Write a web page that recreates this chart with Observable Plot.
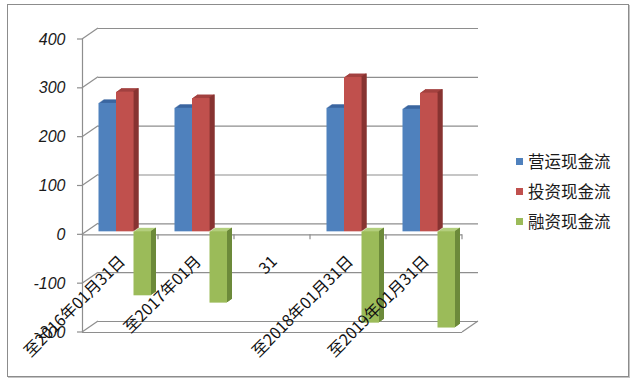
<!DOCTYPE html>
<html><head><meta charset="utf-8">
<script src="https://cdn.jsdelivr.net/npm/d3@7"></script>
<script src="https://cdn.jsdelivr.net/npm/@observablehq/plot@0.6"></script>
<style>
body{margin:0;background:#fff;}
#wrap{position:relative;width:633px;height:383px;overflow:hidden;background:#fff;font-family:"Noto Sans CJK SC","Noto Sans",sans-serif;}
#frame{position:absolute;left:7px;top:4px;width:622px;height:373px;box-sizing:border-box;border:1px solid #8c8c8c;box-shadow:1px 1px 0 #c4c4c4;}
#chart{position:absolute;left:0;top:0;}
.lg{position:absolute;left:516px;height:20px;display:flex;align-items:center;font-size:16.5px;color:#1a1a1a;white-space:nowrap;}
.lg i{display:inline-block;width:7px;height:7px;margin-right:5px;}
</style></head>
<body>
<div id="wrap"><div id="frame"></div><div id="chart"></div><div id="legend"></div></div>
<script>
// ---- data ----
const categories = ["至2016年01月31日", "至2017年01月", "31", "至2018年01月31日", "至2019年01月31日"];
const seriesNames = ["营运现金流", "投资现金流", "融资现金流"];
const operating = [263, 253, null, 253, 251];
const investing = [286, 273, null, 316, 284];
const financing = [-131, -146, null, -187, -197];
const yTicks = [-200, -100, 0, 100, 200, 300, 400];

// ---- styles ----
const FRONT = ["#4f81bd", "#c0504d", "#9bbb59"];
const TOP = ["#3b66a0", "#a34240", "#b3cf7e"];
const SIDE = ["#385d8a", "#7f2e2c", "#6c8a3a"];
const GRID = "#8e8e8e";
const DX = 16, DY = -11;           // wall depth (px)
const BAR_START = 16.5 / 76, BAR_W = 17.5 / 76; // within a category band (x units)
const BD = 5, BDY = 0.7, BASE_DY = -3;  // bar extrusion

const seriesValues = [operating, investing, financing];
const rows = seriesNames.flatMap((s, j) =>
  seriesValues[j].map((v, i) => ({i, j, v, series: s, cat: categories[i]}))
).filter(d => d.v != null);

const X1 = d => d.i + BAR_START + d.j * BAR_W;
const X2 = d => d.i + BAR_START + (d.j + 1) * BAR_W;

function decor(index, scales) {
  const {x, y} = scales;
  const g = d3.create("svg:g").attr("fill", "none").attr("stroke", GRID).attr("stroke-width", 1.2);
  const x0 = x(0), xN = x(categories.length);
  for (const t of yTicks) {
    const py = y(t);
    g.append("line").attr("x1", x0 - 5).attr("x2", x0).attr("y1", py).attr("y2", py);
    g.append("line").attr("x1", x0).attr("y1", py).attr("x2", x0 + DX).attr("y2", py + DY);
  }
  // right edge of the floor
  g.append("line").attr("x1", xN).attr("y1", y(-200)).attr("x2", xN + DX).attr("y2", y(-200) + DY);
  // category ticks on the zero line
  for (let k = 1; k <= categories.length; k++) {
    g.append("line").attr("x1", x(k)).attr("x2", x(k)).attr("y1", y(0)).attr("y2", y(0) + 5);
  }
  return g.node();
}

const barMarks = [];
for (let k = BD; k >= 1; k--) {
  barMarks.push(Plot.rect(rows, {x1: X1, x2: X2, y1: 0, y2: "v", fill: d => TOP[d.j], dx: k, dy: BASE_DY - BDY * k}));
}
for (let k = BD; k >= 1; k--) {
  barMarks.push(Plot.rect(rows, {x1: X2, x2: X2, y1: 0, y2: "v", insetRight: -1, fill: d => SIDE[d.j], dx: k - 1, dy: BASE_DY - BDY * k}));
}
barMarks.push(Plot.rect(rows, {x1: X1, x2: X2, y1: 0, y2: "v", fill: d => FRONT[d.j], dy: BASE_DY}));

const chart = Plot.plot({
  width: 633,
  height: 383,
  marginLeft: 82,
  marginRight: 171,
  marginTop: 39,
  marginBottom: 51,
  x: {type: "linear", domain: [0, categories.length], axis: null},
  y: {type: "linear", domain: [-200, 400], axis: null},
  style: {background: "transparent", fontFamily: "'Noto Sans CJK SC', 'Noto Sans', sans-serif"},
  marks: [
    Plot.ruleY(yTicks, {dx: DX, dy: DY, stroke: GRID, strokeWidth: 1.2}),
    decor,
    Plot.ruleY([-200], {stroke: GRID, strokeWidth: 1.2}),
    Plot.ruleY([0], {stroke: GRID, strokeWidth: 1.2}),
    Plot.ruleX([0], {y1: -200, y2: 400, stroke: GRID, strokeWidth: 1.2}),
    ...barMarks,
    Plot.text(yTicks, {y: d => d, text: d => String(d), frameAnchor: "left", textAnchor: "end", dx: -17,
      fontSize: 16, fontStyle: "italic", fontFamily: "'Liberation Sans', Arial, sans-serif", fill: "#1a1a1a"}),
    Plot.text(categories, {x: (d, i) => i + 0.5, y: () => 0, text: d => d, rotate: -45, textAnchor: "end",
      dx: 2, dy: 24, fontSize: 16, fill: "#111"})
  ]
});
document.getElementById("chart").appendChild(chart);

const lg = document.getElementById("legend");
seriesNames.forEach((s, j) => {
  const row = document.createElement("div");
  row.className = "lg";
  row.style.top = (151 + j * 30) + "px";
  row.innerHTML = `<i style="background:${FRONT[j]}"></i>${s}`;
  lg.appendChild(row);
});
</script>
</body></html>
